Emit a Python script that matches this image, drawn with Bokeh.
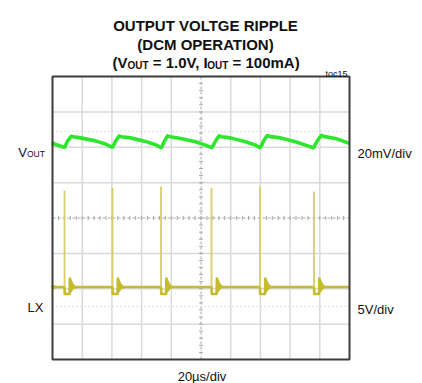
import numpy as np
from bokeh.plotting import figure
from bokeh.models import Range1d, Label
from bokeh.embed import file_html
from bokeh.resources import INLINE

# Scope settings
TIME_PER_DIV_US = 20
H_DIVS, V_DIVS = 10, 8
VOUT_MV_PER_DIV = 20
LX_V_PER_DIV = 5
VOUT_REF_DIV = 2.0      # VOUT (AC) reference level, divisions from centre
LX_REF_DIV = -2.15      # LX ground level, divisions from centre

# VOUT ripple trace: time (µs), AC voltage (mV)
vout_t_us = [0.0, 2.7, 7.7, 8.4, 10.1, 12.5, 14.1, 18.9, 29.0, 35.7, 40.1,
             40.7, 42.4, 44.8, 46.5, 52.5, 62.6, 69.4, 73.1,
             73.7, 75.4, 77.4, 79.4, 86.2, 96.3, 103.0, 107.1,
             107.7, 109.8, 112.1, 113.8, 119.9, 130.0, 136.7, 139.7,
             140.4, 142.1, 144.6, 146.8, 153.5, 163.6, 170.4, 175.6,
             176.2, 178.4, 181.1, 183.2, 190.6, 199.7]
vout_mv = [1.9, 1.4, 0.0, 0.2, 3.5, 6.2, 5.9, 5.3, 3.6, 1.8, 0.1,
           0.3, 3.4, 6.3, 5.9, 5.3, 3.3, 1.4, -0.2,
           0.3, 3.5, 6.4, 5.9, 5.0, 3.1, 1.2, -0.2,
           0.3, 3.5, 6.4, 5.9, 5.3, 3.1, 1.2, -0.2,
           0.3, 3.5, 6.6, 6.0, 5.3, 3.1, 1.2, -0.3,
           0.3, 3.7, 6.7, 6.0, 5.0, 2.3]

# LX switching node: pulse instants (µs) and spike peaks (V)
lx_pulse_t_us = [8.1, 40.4, 73.1, 107.1, 139.7, 176.1]
lx_peak_v = [14.6, 15.0, 15.2, 15.0, 15.2, 14.5]
lx_idle_v = 1.0
lx_low_v = 0.0
# DCM ringing after each pulse: offset from pulse (µs), voltage (V)
ring_dt_us = [3.4, 3.6, 3.8, 4.0, 4.2, 4.4, 4.6, 4.8, 5.0, 5.2, 5.4, 5.6,
              5.8, 6.0, 6.3, 6.6, 7.0, 7.5]
ring_v = [0.0, 2.2, 0.3, 2.0, 0.45, 1.8, 0.55, 1.6, 0.65, 1.45, 0.75, 1.3,
          0.85, 1.2, 0.9, 1.1, 0.95, 1.0]

T_END = TIME_PER_DIV_US * H_DIVS
HALF = V_DIVS / 2

# Build LX trace
lx_t, lx_v = [0.0], [lx_idle_v]
for t0 in lx_pulse_t_us:
    lx_t += [t0, t0 + 0.15]
    lx_v += [lx_idle_v, lx_low_v]
    lx_t += [t0 + d for d in ring_dt_us]
    lx_v += list(ring_v)
lx_t.append(T_END)
lx_v.append(lx_idle_v)


def to_div_vout(mv):
    return VOUT_REF_DIV + np.asarray(mv) / VOUT_MV_PER_DIV


def to_div_lx(v):
    return LX_REF_DIV + np.asarray(v) / LX_V_PER_DIV


# Canvas layout: the graticule occupies pixels FL..FR x FT..FB
W, H = 422, 383
FL, FR, FT, FB = 52, 349, 76, 359
PX_X = (FR - FL) / T_END          # pixels per µs
PX_Y = (FB - FT) / V_DIVS         # pixels per division
CY = (FT + FB) / 2


def xd(px):
    return (px - FL) / PX_X


def yd(py):
    return (CY - py) / PX_Y


p = figure(width=W, height=H, output_backend="svg", toolbar_location=None,
           x_range=Range1d(xd(0), xd(W)), y_range=Range1d(yd(H), yd(0)),
           x_axis_type=None, y_axis_type=None, min_border=0)
p.outline_line_color = None
p.background_fill_color = "white"
p.border_fill_color = "white"
p.xgrid.visible = False
p.ygrid.visible = False

GRID = "#dadada"
# division grid
xs_div = [TIME_PER_DIV_US * i for i in range(1, H_DIVS) if i != H_DIVS // 2]
ys_div = [i for i in range(-V_DIVS // 2 + 1, V_DIVS // 2) if i != 0]
p.segment(x0=xs_div, y0=-HALF, x1=xs_div, y1=HALF, line_color=GRID, line_width=1.5)
p.segment(x0=0, y0=ys_div, x1=T_END, y1=ys_div, line_color=GRID, line_width=1.5)
# reference level markers
p.segment(x0=0, y0=[2.45, -2.5], x1=T_END, y1=[2.45, -2.5], line_color="#c4c4c4",
          line_width=1, line_dash="1 3")
# centre crosshair with minor ticks
p.segment(x0=[T_END / 2, 0], y0=[-HALF, 0], x1=[T_END / 2, T_END], y1=[HALF, 0],
          line_color="#a8a8a8", line_width=1, line_dash="3 2")
mx = np.arange(0, T_END + 0.01, TIME_PER_DIV_US / 5)
my = np.arange(-HALF, HALF + 0.01, 0.2)
p.segment(x0=mx, y0=-0.06, x1=mx, y1=0.06, line_color="#a8a8a8", line_width=1)
p.segment(x0=T_END / 2 - 1.3, y0=my, x1=T_END / 2 + 1.3, y1=my,
          line_color="#a8a8a8", line_width=1)

# LX trace
p.line(lx_t, to_div_lx(lx_v), line_color="#c4bb2f", line_width=2.6, line_join="round")
p.segment(x0=lx_pulse_t_us, y0=to_div_lx([lx_idle_v] * len(lx_pulse_t_us)),
          x1=lx_pulse_t_us, y1=to_div_lx(lx_peak_v), line_color="#d6ce66", line_width=1.8)

# VOUT trace
p.line(vout_t_us, to_div_vout(vout_mv), line_color="#2ee62e", line_width=3.6,
       line_join="round")

# channel markers on the left edge
p.scatter([0.6], [VOUT_REF_DIV + 0.1], marker="square", size=3, color="#2ee62e")
p.scatter([0.6], [to_div_lx(lx_idle_v)], marker="square", size=3, color="#c4bb2f")

# graticule frame
p.quad(left=0, right=T_END, bottom=-HALF, top=HALF, fill_color=None,
       line_color="#3c3c3c", line_width=2)

FONT = "Liberation Sans"
NB = "\u00a0"


def label(text, px, py, size, align="left", bold=False, color="#111111"):
    p.add_layout(Label(x=xd(px), y=yd(py), text=text, text_font=FONT,
                       text_font_size=f"{size}px", text_align=align,
                       text_baseline="alphabetic", text_color=color,
                       text_font_style="bold" if bold else "normal"))


# Title
label("OUTPUT VOLTGE RIPPLE", 205, 25, 15, align="center", bold=True)
label("(DCM OPERATION)", 205, 43.5, 15, align="center", bold=True)
x0 = 112
label("(V", x0, 62, 15, bold=True)
label("OUT", x0 + 15, 64.5, 10, bold=True)
label(NB + "=" + NB + "1.0V," + NB + "I", x0 + 36.1, 62, 15, bold=True)
label("OUT", x0 + 94.8, 64.5, 10, bold=True)
label(NB + "=" + NB + "100mA)", x0 + 115.9, 62, 15, bold=True)
label("toc15", 347, 73, 9, align="right")

# Channel labels
label("V", 26.5, 151.5, 13, align="right")
label("OUT", 26.5, 153, 8.5)
label("LX", 43, 307, 13, align="right")
label("20mV/div", 357, 152.5, 13)
label("5V/div", 357, 308.5, 13)
label("20µs/div", 201.5, 376, 13, align="center")

open("out.html", "w").write(file_html(p, INLINE))
